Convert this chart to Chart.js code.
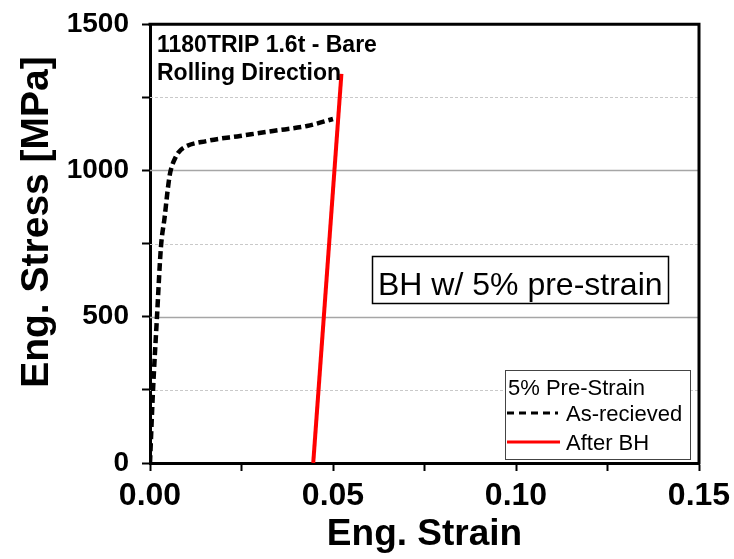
<!DOCTYPE html>
<html>
<head>
<meta charset="utf-8">
<script src="https://cdn.jsdelivr.net/npm/chart.js@4/dist/chart.umd.min.js"></script>
<style>
html,body{margin:0;padding:0;background:#fff;}
#wrap{width:734px;height:559px;position:relative;}
</style>
</head>
<body>
<div id="wrap"><canvas id="c" width="734" height="559"></canvas></div>
<script>
// ---- data ----
const asReceivedStrain = [0, 0.0008, 0.0019, 0.0030, 0.0040, 0.0048, 0.0054, 0.0060, 0.0068, 0.0078, 0.0092, 0.0156, 0.0246, 0.0336, 0.0429, 0.0500];
const asReceivedStress = [0, 242, 498, 740, 840, 930, 985, 1015, 1040, 1062, 1078, 1101, 1118, 1135, 1152, 1176];
const afterBHStrain = [0.0446, 0.0523];
const afterBHStress = [0, 1330];
const xTickValues = [0, 0.05, 0.10, 0.15];
const yTickValues = [0, 500, 1000, 1500];
const majorGrid = [500, 1000];
const minorGrid = [250, 750, 1250];
const seriesNames = ['As-recieved', 'After BH'];
const legendTitle = '5% Pre-Strain';
const noteLines = ['1180TRIP 1.6t - Bare', 'Rolling Direction'];
const boxText = 'BH w/ 5% pre-strain';

const FONT = '"Liberation Sans", Arial, sans-serif';

const toPts = (xs, ys) => xs.map((x, i) => ({x: x, y: ys[i]}));

const overlay = {
  id: 'overlay',
  beforeDatasetsDraw(chart) {
    const {ctx, chartArea: a, scales: {y}} = chart;
    ctx.save();
    minorGrid.forEach(v => {
      const py = Math.round(y.getPixelForValue(v)) + 0.5;
      ctx.strokeStyle = '#c9c9c9'; ctx.lineWidth = 1; ctx.setLineDash([3, 2]);
      ctx.beginPath(); ctx.moveTo(a.left, py); ctx.lineTo(a.right, py); ctx.stroke();
    });
    majorGrid.forEach(v => {
      const py = Math.round(y.getPixelForValue(v)) + 0.5;
      ctx.strokeStyle = '#a6a6a6'; ctx.lineWidth = 1.5; ctx.setLineDash([]);
      ctx.beginPath(); ctx.moveTo(a.left, py); ctx.lineTo(a.right, py); ctx.stroke();
    });
    ctx.restore();
  },
  afterDraw(chart) {
    const {ctx, chartArea: a} = chart;
    ctx.save();
    // top and right spines
    ctx.strokeStyle = '#000'; ctx.lineWidth = 3; ctx.setLineDash([]);
    ctx.beginPath();
    ctx.moveTo(a.left - 1.5, a.top); ctx.lineTo(a.right, a.top); ctx.lineTo(a.right, a.bottom + 1.5);
    ctx.stroke();

    // y-axis title
    ctx.fillStyle = '#000';
    ctx.save();
    ctx.translate(37, 222);
    ctx.rotate(-Math.PI / 2);
    ctx.font = 'bold 39px ' + FONT;
    ctx.textAlign = 'center'; ctx.textBaseline = 'middle';
    ctx.fillText('Eng. Stress [MPa]', 0, 0);
    ctx.restore();

    // top-left note
    ctx.font = 'bold 23px ' + FONT;
    ctx.textAlign = 'left'; ctx.textBaseline = 'alphabetic';
    ctx.fillText(noteLines[0], 157, 52);
    ctx.fillText(noteLines[1], 157, 80);

    // BH box
    ctx.fillStyle = '#fff';
    ctx.fillRect(372, 256, 296, 47);
    ctx.strokeStyle = '#000'; ctx.lineWidth = 1.5;
    ctx.strokeRect(372.5, 256.5, 296, 47);
    ctx.fillStyle = '#000';
    ctx.font = '32px ' + FONT;
    ctx.fillText(boxText, 378, 295);

    // legend
    ctx.fillStyle = '#fff';
    ctx.fillRect(505, 370, 185, 89);
    ctx.strokeStyle = '#444'; ctx.lineWidth = 1;
    ctx.strokeRect(505.5, 370.5, 185, 89);
    ctx.fillStyle = '#000';
    ctx.font = '22px ' + FONT;
    ctx.fillText(legendTitle, 508, 395);
    ctx.strokeStyle = '#000'; ctx.lineWidth = 3; ctx.setLineDash([7, 5]);
    ctx.beginPath(); ctx.moveTo(507, 413); ctx.lineTo(558, 413); ctx.stroke();
    ctx.setLineDash([]);
    ctx.strokeStyle = '#ff0000'; ctx.lineWidth = 3;
    ctx.beginPath(); ctx.moveTo(507, 442); ctx.lineTo(560, 442); ctx.stroke();
    ctx.fillText(seriesNames[0], 566, 421);
    ctx.fillText(seriesNames[1], 566, 450);
    ctx.restore();
  }
};

new Chart(document.getElementById('c'), {
  type: 'scatter',
  data: {
    datasets: [
      {
        label: seriesNames[0],
        data: toPts(asReceivedStrain, asReceivedStress),
        showLine: true, pointRadius: 0, borderColor: '#000', borderWidth: 4.5,
        borderDash: [8, 4], cubicInterpolationMode: 'monotone', fill: false
      },
      {
        label: seriesNames[1],
        data: toPts(afterBHStrain, afterBHStress),
        showLine: true, pointRadius: 0, borderColor: '#ff0000', borderWidth: 4, fill: false
      }
    ]
  },
  options: {
    responsive: false,
    animation: false,
    layout: {padding: {top: 23, right: 35, left: 0, bottom: 0}},
    plugins: {legend: {display: false}, tooltip: {enabled: false}},
    scales: {
      x: {
        type: 'linear', min: 0, max: 0.15,
        afterFit: s => { s.height = 96; s.paddingRight = 0; s.paddingLeft = 0; },
        ticks: {
          stepSize: 0.025, color: '#000', padding: 6, maxRotation: 0, autoSkip: false,
          font: {family: FONT, weight: 'bold', size: 32},
          callback: v => xTickValues.some(t => Math.abs(t - v) < 1e-6) ? v.toFixed(2) : ''
        },
        grid: {drawOnChartArea: false, drawTicks: true, tickLength: 8, tickColor: '#000', tickWidth: 2},
        border: {display: true, color: '#000', width: 3},
        title: {display: true, text: 'Eng. Strain', color: '#000', padding: {top: 0, bottom: 2},
          font: {family: FONT, weight: 'bold', size: 37}}
      },
      y: {
        type: 'linear', min: 0, max: 1500,
        afterFit: s => { s.width = 150; },
        ticks: {
          stepSize: 250, color: '#000', padding: 13, autoSkip: false,
          font: {family: FONT, weight: 'bold', size: 28, lineHeight: 0.8},
          callback: v => yTickValues.includes(v) ? String(v) : ''
        },
        grid: {drawOnChartArea: false, drawTicks: true, tickLength: 8, tickColor: '#000', tickWidth: 2},
        border: {display: true, color: '#000', width: 3}
      }
    }
  },
  plugins: [overlay]
});
</script>
</body>
</html>
